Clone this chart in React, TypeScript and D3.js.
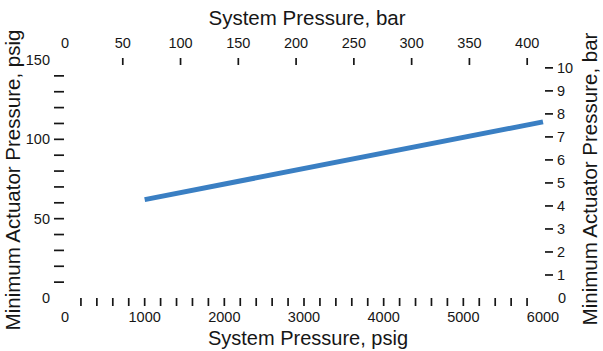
import React from "react";
import * as d3 from "d3";

const seriesPsig = [1000, 6000];
const seriesActuatorPsi = [62, 111];
const bottomLabels = [0, 1000, 2000, 3000, 4000, 5000, 6000];
const bottomMinorTicks = d3.range(200, 5801, 200);
const topLabels = [0, 50, 100, 150, 200, 250, 300, 350, 400];
const topTicks = [50, 100, 150, 200, 250, 300, 350, 400];
const leftLabels = [0, 50, 100, 150];
const leftTicks = d3.range(10, 141, 10);
const rightLabels = [0, 1, 2, 3, 4, 5, 6, 7, 8, 9, 10];
const rightTicks = [1, 2, 3, 4, 5, 6, 7, 8, 9, 10];

const PSI_PER_BAR = 14.5038;
const W = 603;
const H = 351;
const FONT = "'Liberation Sans', Arial, Helvetica, sans-serif";
const INK = "#161616";
const LINE = "#3a7fc3";

export default function App() {
  const x = d3.scaleLinear().domain([0, 6000]).range([65, 543]);
  const y = d3.scaleLinear().domain([0, 150]).range([298, 60]);
  const xBar = (b: number) => x(b * PSI_PER_BAR);
  const yBar = (b: number) => y(b * PSI_PER_BAR);
  const line = d3
    .line<number>()
    .x((_, i) => x(seriesPsig[i]))
    .y((d) => y(d));

  return (
    <svg
      width={W}
      height={H}
      style={{ position: "absolute", left: 0, top: 0, background: "#fff" }}
      fontFamily={FONT}
    >
      {/* Titles */}
      <text x={307} y={25} fontSize={20.5} textAnchor="middle" fill={INK}>
        System Pressure, bar
      </text>
      <text x={308} y={345} fontSize={20} textAnchor="middle" fill={INK}>
        System Pressure, psig
      </text>
      <text
        transform={`translate(20,180) rotate(-90)`}
        fontSize={20.5}
        textAnchor="middle"
        fill={INK}
      >
        Minimum Actuator Pressure, psig
      </text>
      <text
        transform={`translate(597,179) rotate(-90)`}
        fontSize={20.5}
        textAnchor="middle"
        fill={INK}
      >
        Minimum Actuator Pressure, bar
      </text>

      {/* Top axis (bar) */}
      {topLabels.map((b) => (
        <text key={"tl" + b} x={xBar(b)} y={48} fontSize={14.5} textAnchor="middle" fill={INK}>
          {b}
        </text>
      ))}
      {topTicks.map((b) => (
        <line key={"tt" + b} x1={xBar(b)} x2={xBar(b)} y1={58} y2={65} stroke={INK} strokeWidth={1.7} />
      ))}

      {/* Bottom axis (psig) */}
      {bottomMinorTicks.map((p) => (
        <line key={"bt" + p} x1={x(p)} x2={x(p)} y1={298} y2={306} stroke={INK} strokeWidth={1.7} />
      ))}
      {bottomLabels.map((p) => (
        <text key={"bl" + p} x={x(p)} y={322} fontSize={14.5} textAnchor="middle" fill={INK}>
          {p}
        </text>
      ))}

      {/* Left axis (psig) */}
      {leftTicks.map((v) => (
        <line key={"lt" + v} x1={54} x2={64} y1={y(v)} y2={y(v)} stroke={INK} strokeWidth={1.7} />
      ))}
      {leftLabels.map((v) => (
        <text key={"ll" + v} x={50} y={y(v) + 5} fontSize={14.5} textAnchor="end" fill={INK}>
          {v}
        </text>
      ))}

      {/* Right axis (bar) */}
      {rightTicks.map((b) => (
        <line key={"rt" + b} x1={545} x2={553} y1={yBar(b)} y2={yBar(b)} stroke={INK} strokeWidth={1.7} />
      ))}
      {rightLabels.map((b) => (
        <text key={"rl" + b} x={b === 0 ? 558 : 557} y={yBar(b) + 5} fontSize={14.5} textAnchor="start" fill={INK}>
          {b}
        </text>
      ))}

      {/* Data line */}
      <path
        d={line(seriesActuatorPsi) || ""}
        fill="none"
        stroke={LINE}
        strokeWidth={5}
        strokeLinecap="butt"
      />
    </svg>
  );
}
